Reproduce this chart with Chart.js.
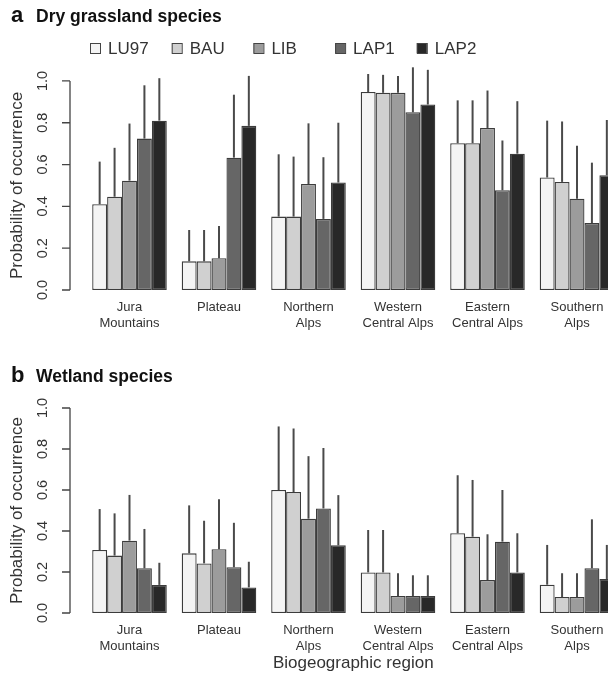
<!DOCTYPE html>
<html>
<head>
<meta charset="utf-8">
<script src="https://cdn.jsdelivr.net/npm/chart.js@4/dist/chart.umd.min.js"></script>
<style>
  html, body { margin: 0; padding: 0; background: #fff; overflow: hidden; }
  #wrap { position: relative; width: 608px; height: 682px; overflow: hidden; }
  canvas { position: absolute; left: 0; }
  #ca { top: 0; }
  #cb { top: 340px; }
</style>
</head>
<body>
<div id="wrap">
  <canvas id="ca" width="640" height="340"></canvas>
  <canvas id="cb" width="640" height="342"></canvas>
</div>
<script>
// regions and scenarios
const regions = [['Jura', 'Mountains'], ['Plateau'], ['Northern', 'Alps'], ['Western', 'Central Alps'], ['Eastern', 'Central Alps'], ['Southern', 'Alps']]
const scenarios = ['LU97', 'BAU', 'LIB', 'LAP1', 'LAP2']
const yTicks = [0, 0.2, 0.4, 0.6, 0.8, 1.0]

// a: dry grassland species (mean and upper end of the error bar)
const dryLU97 = [0.41, 0.137, 0.351, 0.947, 0.702, 0.538]
const dryBAU  = [0.446, 0.137, 0.351, 0.943, 0.702, 0.517]
const dryLIB  = [0.523, 0.152, 0.507, 0.943, 0.775, 0.437]
const dryLAP1 = [0.724, 0.633, 0.34, 0.85, 0.477, 0.32]
const dryLAP2 = [0.81, 0.785, 0.514, 0.887, 0.652, 0.549]
const dryLU97Up = [0.614, 0.287, 0.649, 1.033, 0.907, 0.81]
const dryBAUUp  = [0.68, 0.287, 0.638, 1.029, 0.907, 0.806]
const dryLIBUp  = [0.796, 0.306, 0.797, 1.024, 0.954, 0.69]
const dryLAP1Up = [0.979, 0.934, 0.635, 1.065, 0.715, 0.609]
const dryLAP2Up = [1.013, 1.024, 0.80, 1.053, 0.903, 0.813]

// b: wetland species
const wetLU97 = [0.307, 0.291, 0.60, 0.198, 0.389, 0.138]
const wetBAU  = [0.28, 0.242, 0.59, 0.198, 0.372, 0.078]
const wetLIB  = [0.353, 0.311, 0.46, 0.083, 0.161, 0.078]
const wetLAP1 = [0.218, 0.223, 0.51, 0.083, 0.348, 0.218]
const wetLAP2 = [0.137, 0.125, 0.33, 0.083, 0.198, 0.166]
const wetLU97Up = [0.507, 0.525, 0.91, 0.405, 0.672, 0.332]
const wetBAUUp  = [0.486, 0.45, 0.90, 0.405, 0.649, 0.194]
const wetLIBUp  = [0.576, 0.555, 0.765, 0.194, 0.384, 0.194]
const wetLAP1Up = [0.41, 0.44, 0.805, 0.184, 0.60, 0.457]
const wetLAP2Up = [0.245, 0.25, 0.575, 0.184, 0.389, 0.332]

const fills = ['#f4f4f4', '#d0d0d0', '#9c9c9c', '#666666', '#282828']
const FONT = "'Liberation Sans', Arial, sans-serif"

// R-like decorations : title, legend, y axis, error bars
function decor (letter, title, titleY, opts) {
  return {
    id: 'decor',
    afterDatasetsDraw (chart) {
      const ctx = chart.ctx
      const y = chart.scales.y
      ctx.save()
      ctx.strokeStyle = '#4a4a4a'
      ctx.lineWidth = 2
      chart.data.datasets.forEach((ds, i) => {
        chart.getDatasetMeta(i).data.forEach((bar, j) => {
          ctx.beginPath()
          ctx.moveTo(bar.x, bar.y)
          ctx.lineTo(bar.x, y.getPixelForValue(ds.upper[j]))
          ctx.stroke()
        })
      })
      ctx.restore()
    },
    afterDraw (chart) {
      const ctx = chart.ctx
      const y = chart.scales.y
      ctx.save()
      // title
      ctx.fillStyle = '#111'
      ctx.textBaseline = 'alphabetic'
      ctx.font = 'bold 22px ' + FONT
      ctx.fillText(letter, 11, titleY)
      ctx.font = 'bold 17.5px ' + FONT
      ctx.fillText(title, 36, titleY)

      // y axis
      ctx.strokeStyle = '#444'
      ctx.lineWidth = 1.3
      ctx.beginPath()
      ctx.moveTo(70, y.getPixelForValue(0))
      ctx.lineTo(70, y.getPixelForValue(1))
      yTicks.forEach(v => {
        ctx.moveTo(62, y.getPixelForValue(v))
        ctx.lineTo(70, y.getPixelForValue(v))
      })
      ctx.stroke()
      ctx.fillStyle = '#333'
      ctx.font = '14.5px ' + FONT
      ctx.textAlign = 'center'
      ctx.textBaseline = 'middle'
      yTicks.forEach(v => {
        ctx.save()
        ctx.translate(43, y.getPixelForValue(v))
        ctx.rotate(-Math.PI / 2)
        ctx.fillText(v.toFixed(1), 0, 0)
        ctx.restore()
      })
      ctx.save()
      ctx.font = '17px ' + FONT
      ctx.translate(17, (y.getPixelForValue(0) + y.getPixelForValue(1)) / 2)
      ctx.rotate(-Math.PI / 2)
      ctx.fillText('Probability of occurrence', 0, 0)
      ctx.restore()

      // legend
      if (opts.legend) {
        ctx.font = '17px ' + FONT
        ctx.textAlign = 'left'
        ctx.lineWidth = 1
        scenarios.forEach((s, i) => {
          const x = 90 + i * 81.7
          ctx.fillStyle = fills[i]
          ctx.fillRect(x, 43, 10, 10)
          ctx.strokeStyle = '#444'
          ctx.strokeRect(x + 0.5, 43.5, 10, 10)
          ctx.fillStyle = '#333'
          ctx.fillText(s, x + 18, 49)
        })
      }

      // x axis title
      if (opts.xTitle) {
        ctx.font = '17px ' + FONT
        ctx.textAlign = 'center'
        ctx.fillStyle = '#333'
        ctx.fillText(opts.xTitle, (chart.chartArea.left + chart.chartArea.right) / 2, 323)
      }
      ctx.restore()
    }
  }
}

function makeChart (id, means, uppers, padTop, axisH, plugin) {
  new Chart(document.getElementById(id), {
    type: 'bar',
    data: {
      labels: regions,
      datasets: scenarios.map((s, i) => ({
        label: s,
        data: means[i],
        upper: uppers[i],
        backgroundColor: fills[i],
        borderColor: '#3c3c3c',
        borderWidth: 1.3,
        borderSkipped: false,
        categoryPercentage: 5 / 6,
        barPercentage: 1
      }))
    },
    options: {
      responsive: false,
      animation: false,
      layout: { padding: { top: padTop, left: 84.75, right: 18.25, bottom: 0 } },
      plugins: { legend: { display: false }, title: { display: false }, tooltip: { enabled: false } },
      scales: {
        x: {
          grid: { display: false, drawTicks: false },
          border: { display: false },
          ticks: { color: '#333', font: { size: 13, family: FONT }, padding: 10, maxRotation: 0, autoSkip: false },
          afterFit: s => { s.height = axisH }
        },
        y: { display: false, min: 0, max: 1.1 }
      }
    },
    plugins: [plugin]
  })
}

makeChart('ca',
  [dryLU97, dryBAU, dryLIB, dryLAP1, dryLAP2],
  [dryLU97Up, dryBAUUp, dryLIBUp, dryLAP1Up, dryLAP2Up],
  60, 50, decor('a', 'Dry grassland species', 22, { legend: true }))

makeChart('cb',
  [wetLU97, wetBAU, wetLIB, wetLAP1, wetLAP2],
  [wetLU97Up, wetBAUUp, wetLIBUp, wetLAP1Up, wetLAP2Up],
  47.5, 69, decor('b', 'Wetland species', 42, { xTitle: 'Biogeographic region' }))
</script>
</body>
</html>
